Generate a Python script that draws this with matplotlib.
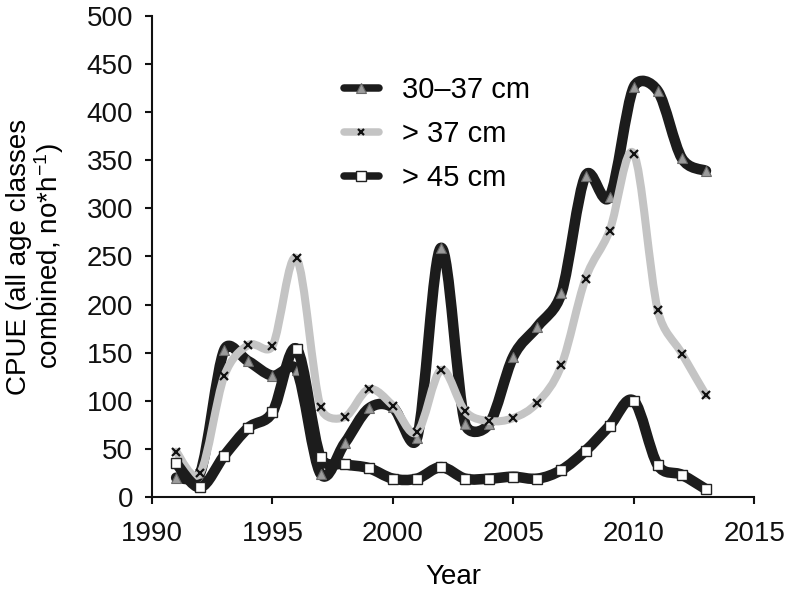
import matplotlib
matplotlib.use("Agg")
import matplotlib.pyplot as plt
import numpy as np
from matplotlib.path import Path
from matplotlib.patches import PathPatch
from matplotlib.lines import Line2D

plt.rcParams['font.family'] = ['Liberation Sans', 'DejaVu Sans']
plt.rcParams['mathtext.default'] = 'regular'

years = list(range(1991, 2014))
cpue_30_37 = [20, 25, 153, 141, 126, 132, 24, 56, 92, 93, 61, 259, 76, 76,
              146, 177, 212, 334, 312, 426, 422, 352, 339]
cpue_37 = [47, 25, 126, 158, 157, 248, 93, 83, 112, 95, 67, 132, 89, 79,
           82, 98, 137, 227, 277, 357, 194, 149, 106]
cpue_45 = [35, 10, 43, 72, 88, 154, 41, 34, 30, 19, 19, 31, 19, 19,
           21, 19, 28, 48, 74, 100, 33, 23, 8]
labels = ["30\u201337 cm", "> 37 cm", "> 45 cm"]

BLACK = "#1c1c1c"
GREY = "#c4c4c4"
FS = 20


def clip(v, lim):
    n = np.linalg.norm(v)
    if n > lim and n > 0:
        return v * lim / n
    return v


def smooth_path(ax, x, y):
    # spreadsheet-style smoothed line: Catmull-Rom handles (1/6) in pixel
    # space, each handle kept to at most half of its segment
    p = ax.transData.transform(np.column_stack([x, y]).astype(float))
    ext = np.vstack([p[0], p, p[-1]])
    verts = [p[0]]
    codes = [Path.MOVETO]
    for i in range(len(p) - 1):
        p0, p1, p2, p3 = ext[i], ext[i + 1], ext[i + 2], ext[i + 3]
        half = np.linalg.norm(p2 - p1) / 2.0
        c1 = p1 + clip((p2 - p0) / 6.0, half)
        c2 = p2 - clip((p3 - p1) / 6.0, half)
        verts += [c1, c2, p2]
        codes += [Path.CURVE4] * 3
    verts = ax.transData.inverted().transform(np.array(verts))
    return Path(verts, codes)


def main():
    fig = plt.figure(figsize=(7.88, 5.93), dpi=100)
    ax = fig.add_axes([0.193, 0.162, 0.764, 0.811])
    ax.set_xlim(1990, 2015)
    ax.set_ylim(0, 500)

    series = [
        (cpue_30_37, BLACK, 7.6, dict(marker='^', markersize=7.5, markerfacecolor='#9c9c9c',
                                      markeredgecolor='#6a6a6a', markeredgewidth=0.8)),
        (cpue_37, GREY, 5.8, dict(marker='x', markersize=6, markeredgecolor='#111111',
                                  markeredgewidth=1.6)),
        (cpue_45, BLACK, 7.6, dict(marker='s', markersize=7.5, markerfacecolor='white',
                                   markeredgecolor='#222222', markeredgewidth=1.0)),
    ]

    handles = []
    for k, (vals, col, lw, mk) in enumerate(series):
        patch = PathPatch(smooth_path(ax, years, vals), fill=False, edgecolor=col,
                          linewidth=lw, capstyle='round', joinstyle='round',
                          zorder=2 + 2 * k)
        ax.add_patch(patch)
        ax.plot(years, vals, linestyle='none', zorder=3 + 2 * k, **mk)
        hmk = dict(mk)
        hmk['markersize'] = mk['markersize'] - 1
        handles.append(Line2D([], [], color=col, linewidth=5.4,
                              solid_capstyle='round', **hmk))

    ax.set_xticks(range(1990, 2016, 5))
    ax.set_yticks(range(0, 501, 50))

    for s in ['top', 'right']:
        ax.spines[s].set_visible(False)
    for s in ['left', 'bottom']:
        ax.spines[s].set_linewidth(1.5)
        ax.spines[s].set_color('#111111')
    ax.tick_params(direction='out', length=5, width=1.5, labelsize=FS,
                   colors='#111111')
    ax.tick_params(axis='x', pad=12.5)
    ax.tick_params(axis='y', pad=8.5)

    ax.set_xlabel("Year", fontsize=FS, labelpad=12)
    ax.set_ylabel("CPUE (all age classes\ncombined, no*h$^{-1}$)",
                  fontsize=FS, labelpad=15, linespacing=1.0)

    ax.legend(handles, labels, loc='upper left', bbox_to_anchor=(0.436, 0.872),
              bbox_transform=fig.transFigure, frameon=False, fontsize=21,
              handlelength=1.2, handletextpad=0.8, labelspacing=0.55,
              borderpad=0, borderaxespad=0)

    fig.savefig("out.png", dpi=100)


if __name__ == "__main__":
    main()
